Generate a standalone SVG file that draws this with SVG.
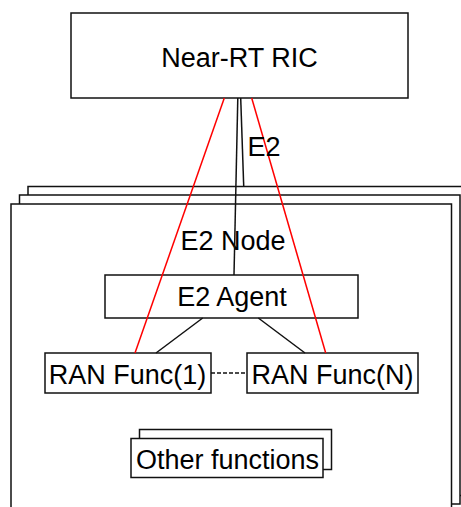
<svg xmlns="http://www.w3.org/2000/svg" width="461" height="507" viewBox="0 0 461 507">
<style>
.box{fill:#fff;stroke:#111;stroke-width:1.5}
.t{font-family:"Liberation Sans",Arial,sans-serif;font-size:27px;fill:#000}
.blk{stroke:#111;stroke-width:1.5;fill:none}
.red{stroke:#f00;stroke-width:1.5;fill:none}
</style>
<rect width="461" height="507" fill="#fff"/>
<g id="ric">
<rect class="box" x="71" y="13" width="337" height="85"/>
<text class="t" x="239.5" y="66.5" text-anchor="middle">Near-RT RIC</text>
</g>
<g id="e2node">
<rect class="box" x="28" y="186.5" width="440" height="309"/>
<rect class="box" x="19.5" y="195" width="440.5" height="309"/>
<rect class="box" x="11" y="204" width="440.5" height="320"/>
<text class="t" x="233" y="250" text-anchor="middle">E2 Node</text>
</g>
<g id="e2agent">
<rect class="box" x="105" y="275" width="253" height="43"/>
<text class="t" x="232" y="306" text-anchor="middle">E2 Agent</text>
</g>
<g id="ranfunc1">
<rect class="box" x="45" y="353" width="166" height="40"/>
<text class="t" x="127.5" y="383.5" text-anchor="middle">RAN Func(1)</text>
</g>
<g id="ranfuncn">
<rect class="box" x="247" y="353" width="171" height="40"/>
<text class="t" x="332.5" y="383.5" text-anchor="middle">RAN Func(N)</text>
</g>
<g id="otherfunctions">
<rect class="box" x="139.5" y="429.5" width="192" height="40"/>
<rect class="box" x="131" y="438.5" width="192" height="39"/>
<text class="t" x="227.5" y="468.5" text-anchor="middle">Other functions</text>
</g>
<g id="connectors">
<line class="blk" x1="240.7" y1="98" x2="243.7" y2="186"/>
<line class="blk" x1="237.8" y1="98" x2="234" y2="275"/>
<line class="red" x1="224.3" y1="98" x2="135" y2="353"/>
<line class="red" x1="251.7" y1="98" x2="325.7" y2="353"/>
<line class="blk" x1="202.7" y1="318" x2="156" y2="353"/>
<line class="blk" x1="258.3" y1="318" x2="305" y2="353"/>
<line class="blk" x1="211" y1="373" x2="247" y2="373" stroke-dasharray="4,2"/>
<text class="t" x="247.5" y="155.5">E2</text>
</g>
</svg>
